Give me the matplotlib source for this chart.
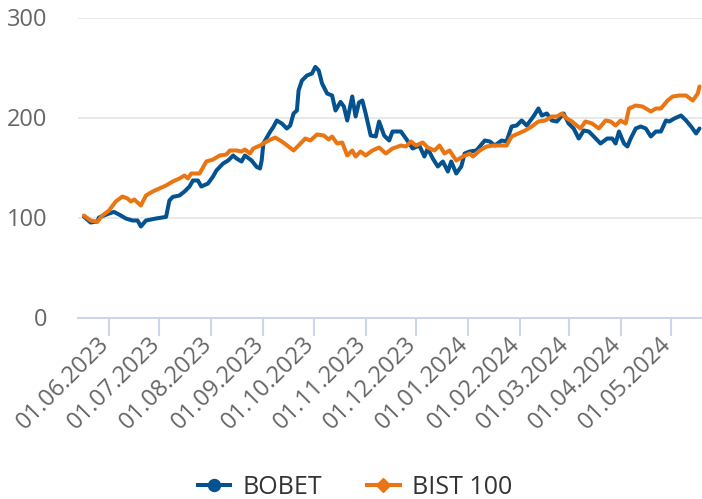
import matplotlib
matplotlib.use("Agg")
import matplotlib.pyplot as plt
import matplotlib.dates as mdates
from matplotlib.lines import Line2D
from matplotlib.transforms import ScaledTranslation
import pandas as pd

bobet_dates = [
    "2023-05-17", "2023-05-21", "2023-05-25", "2023-05-26", "2023-06-01", "2023-06-04", "2023-06-08",
    "2023-06-11", "2023-06-15", "2023-06-18", "2023-06-20", "2023-06-23", "2023-06-29", "2023-07-05",
    "2023-07-07", "2023-07-09", "2023-07-13", "2023-07-16", "2023-07-19", "2023-07-21", "2023-07-24",
    "2023-07-26", "2023-07-30", "2023-08-02", "2023-08-04", "2023-08-08", "2023-08-11", "2023-08-14",
    "2023-08-16", "2023-08-19", "2023-08-21", "2023-08-25", "2023-08-28", "2023-08-30", "2023-08-31",
    "2023-09-01", "2023-09-05", "2023-09-07", "2023-09-09", "2023-09-12", "2023-09-15", "2023-09-17",
    "2023-09-19", "2023-09-21", "2023-09-22", "2023-09-24", "2023-09-27", "2023-09-30", "2023-10-02",
    "2023-10-04", "2023-10-06", "2023-10-09", "2023-10-12", "2023-10-14", "2023-10-17", "2023-10-19",
    "2023-10-21", "2023-10-24", "2023-10-26", "2023-10-28", "2023-10-30", "2023-11-01", "2023-11-04",
    "2023-11-07", "2023-11-09", "2023-11-12", "2023-11-15", "2023-11-17", "2023-11-22", "2023-11-25",
    "2023-11-29", "2023-12-03", "2023-12-06", "2023-12-08", "2023-12-11", "2023-12-14", "2023-12-17",
    "2023-12-20", "2023-12-22", "2023-12-25", "2023-12-28", "2023-12-30", "2024-01-02", "2024-01-06",
    "2024-01-11", "2024-01-14", "2024-01-17", "2024-01-21", "2024-01-24", "2024-01-27", "2024-01-30",
    "2024-02-02", "2024-02-05", "2024-02-09", "2024-02-12", "2024-02-14", "2024-02-17", "2024-02-20",
    "2024-02-23", "2024-02-27", "2024-03-01", "2024-03-04", "2024-03-07", "2024-03-10", "2024-03-13",
    "2024-03-16", "2024-03-20", "2024-03-24", "2024-03-27", "2024-03-29", "2024-03-31", "2024-04-03",
    "2024-04-05", "2024-04-07", "2024-04-10", "2024-04-13", "2024-04-16", "2024-04-19", "2024-04-22",
    "2024-04-25", "2024-04-28", "2024-04-30", "2024-05-03", "2024-05-07", "2024-05-10", "2024-05-13",
    "2024-05-16", "2024-05-18",
]
bobet_values = [
    101, 95, 96, 100, 104, 105.6, 102,
    99, 97, 97, 91, 97, 99, 100.6,
    117, 120.6, 122, 126, 131, 137, 137,
    131, 134, 141, 147, 154, 157, 162,
    159, 156, 162, 157, 150.6, 149, 157,
    174, 185.6, 190.6, 197, 194, 189, 192,
    204, 207, 227, 237, 242, 244, 250.6,
    247, 234, 224, 222, 207, 215.6, 211,
    197, 221, 201, 215, 217, 204, 182,
    181, 196, 182, 177, 186, 186, 179,
    169, 172, 161, 169, 159, 151, 156,
    146, 156, 144, 151, 164, 166, 167,
    177, 176, 172, 177, 176, 191, 192,
    197, 192, 201, 209, 202, 204, 197,
    196, 204, 194, 189, 179, 187, 186,
    181, 174, 179, 179, 174, 186, 174,
    171, 179, 189, 191, 189, 181, 186,
    186, 197, 196, 199, 202, 197, 191,
    184, 189,
]

bist_dates = [
    "2023-05-17", "2023-05-21", "2023-05-25", "2023-05-28", "2023-06-01", "2023-06-05", "2023-06-09",
    "2023-06-12", "2023-06-14", "2023-06-16", "2023-06-20", "2023-06-23", "2023-06-27", "2023-07-01",
    "2023-07-05", "2023-07-09", "2023-07-13", "2023-07-16", "2023-07-18", "2023-07-20", "2023-07-25",
    "2023-07-29", "2023-08-02", "2023-08-06", "2023-08-10", "2023-08-12", "2023-08-16", "2023-08-19",
    "2023-08-21", "2023-08-24", "2023-08-26", "2023-08-30", "2023-09-03", "2023-09-08", "2023-09-12",
    "2023-09-16", "2023-09-19", "2023-09-22", "2023-09-26", "2023-09-29", "2023-10-03", "2023-10-07",
    "2023-10-10", "2023-10-12", "2023-10-15", "2023-10-18", "2023-10-21", "2023-10-24", "2023-10-26",
    "2023-10-29", "2023-11-01", "2023-11-05", "2023-11-09", "2023-11-13", "2023-11-17", "2023-11-22",
    "2023-11-25", "2023-11-28", "2023-12-01", "2023-12-05", "2023-12-08", "2023-12-12", "2023-12-15",
    "2023-12-18", "2023-12-21", "2023-12-25", "2023-12-29", "2024-01-02", "2024-01-04", "2024-01-08",
    "2024-01-12", "2024-01-16", "2024-01-20", "2024-01-24", "2024-01-27", "2024-01-31", "2024-02-04",
    "2024-02-08", "2024-02-12", "2024-02-16", "2024-02-20", "2024-02-23", "2024-02-26", "2024-02-29",
    "2024-03-03", "2024-03-08", "2024-03-11", "2024-03-15", "2024-03-19", "2024-03-23", "2024-03-26",
    "2024-03-29", "2024-04-01", "2024-04-04", "2024-04-06", "2024-04-10", "2024-04-14", "2024-04-19",
    "2024-04-22", "2024-04-25", "2024-04-29", "2024-05-02", "2024-05-06", "2024-05-10", "2024-05-14",
    "2024-05-17", "2024-05-18",
]
bist_values = [
    102, 97, 95.6, 102, 107, 116, 121,
    119, 116, 118, 112, 122, 126, 129,
    132, 136, 139, 142, 139, 144, 144,
    156, 158, 162, 163, 167, 167, 166,
    168, 164, 169, 172, 176, 180, 176,
    171, 167, 172, 179, 177, 183, 182,
    178, 181, 174, 175, 162, 167, 161,
    166, 162, 167, 170, 164, 169, 172,
    171, 176, 172, 175, 170, 167, 172,
    164, 167, 157, 161, 164, 161, 167,
    171, 172, 172, 172, 181, 184, 187,
    191, 196, 197, 201, 201, 204, 199,
    196, 189, 196, 194, 189, 197, 196,
    192, 197, 194, 209, 212, 211, 206,
    209, 209, 217, 221, 222, 222, 217,
    224, 231,
]

series_names = ["BOBET", "BIST 100"]
series_colors = ["#04528f", "#ea7513"]
y_ticks = [0, 100, 200, 300]
x_tick_dates = [
    "2023-06-01", "2023-07-01", "2023-08-01", "2023-09-01", "2023-10-01", "2023-11-01",
    "2023-12-01", "2024-01-01", "2024-02-01", "2024-03-01", "2024-04-01", "2024-05-01",
]
x_tick_labels = [pd.Timestamp(d).strftime("%d.%m.%Y") for d in x_tick_dates]

plt.rcParams["font.family"] = ["Open Sans", "DejaVu Sans"]

W, H = 702, 499
fig = plt.figure(figsize=(W / 100, H / 100), dpi=100)
ax = fig.add_axes([78 / W, (H - 317.5) / H, (W - 78) / W, 300 / H])

ax.plot(pd.to_datetime(bobet_dates), bobet_values, color=series_colors[0], lw=2.9,
        solid_joinstyle="round", solid_capstyle="round", zorder=3)
ax.plot(pd.to_datetime(bist_dates), bist_values, color=series_colors[1], lw=2.9,
        solid_joinstyle="round", solid_capstyle="round", zorder=4)

ax.set_ylim(0, 300)
ax.set_xlim(pd.Timestamp("2023-05-13 12:00"), pd.Timestamp("2024-05-19 12:00"))
ax.set_yticks(y_ticks)
ax.set_yticklabels([str(v) for v in y_ticks])
ax.set_xticks(pd.to_datetime(x_tick_dates))
ax.set_xticklabels(x_tick_labels)

ax.grid(axis="y", color="#e6e6e6", lw=1.3, zorder=0)
ax.set_axisbelow(True)
for s in ["top", "right", "left"]:
    ax.spines[s].set_visible(False)
ax.spines["bottom"].set_color("#ccd6eb")
ax.spines["bottom"].set_linewidth(1.5)
ax.spines["bottom"].set_zorder(5)

ax.tick_params(axis="y", length=0, pad=22, labelsize=17, labelcolor="#666666")
ax.tick_params(axis="x", length=13, width=1.5, color="#ccd6eb", pad=3.6,
               labelsize=17, labelcolor="#666666")
offset = ScaledTranslation(-3 / 100, 0, fig.dpi_scale_trans)
for lab in ax.get_xticklabels():
    lab.set_rotation(45)
    lab.set_ha("right")
    lab.set_va("center")
    lab.set_rotation_mode("anchor")
    lab.set_transform(lab.get_transform() + offset)

handles = [
    Line2D([], [], color=series_colors[0], lw=2.9, marker="o", markersize=8.6),
    Line2D([], [], color=series_colors[1], lw=2.9, marker="D", markersize=7.6),
]
leg = fig.legend(handles, series_names, loc="center", bbox_to_anchor=(355 / W, 1 - 487 / H),
                 ncol=2, frameon=False, fontsize=18, handlelength=1.3, handletextpad=0.5,
                 columnspacing=1.8, borderpad=0, borderaxespad=0)
for t in leg.get_texts():
    t.set_color("#333333")

fig.savefig("out.png", dpi=100)
